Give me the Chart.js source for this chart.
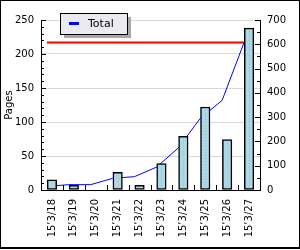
<!DOCTYPE html>
<html><head><meta charset="utf-8">
<script src="https://cdn.jsdelivr.net/npm/chart.js@4"></script>
<style>html,body{margin:0;padding:0;background:#fff}#wrap{width:300px;height:250px;position:relative}</style>
</head><body><div id="wrap"><canvas id="c" width="300" height="250"></canvas></div>
<script>
const categories = ['15\u20193/18','15\u20193/19','15\u20193/20','15\u20193/21','15\u20193/22','15\u20193/23','15\u20193/24','15\u20193/25','15\u20193/26','15\u20193/27'];
const dailyPages = [15, 7, 0, 26, 7, 39, 79, 122, 74, 238];
const cumulativeTotal = [15, 22, 22, 48, 55, 94, 173, 295, 369, 607];
const totalLevel = [607, 607, 607, 607, 607, 607, 607, 607, 607, 607];
const leftAxis = {min: 0, max: 250, major: 50, minor: 10};
const rightAxis = {min: 0, max: 700, major: 100, minor: 50};
const lineShift = 0.23; // line vertices sit at the left edge of each bar

Chart.defaults.font.family = "'DejaVu Sans'";
Chart.defaults.font.size = 10;
Chart.defaults.color = '#000';

const decor = {
  id: 'decor',
  afterDatasetsDraw(chart) {
    const ctx = chart.ctx;
    const meta = chart.getDatasetMeta(0);
    ctx.save();
    ctx.strokeStyle = 'rgba(225,150,160,0.9)';
    ctx.lineWidth = 1;
    ctx.setLineDash([1, 2]);
    meta.data.forEach(b => {
      if (b.base - b.y > 4) {
        const px = Math.round(b.x) + 0.5;
        ctx.beginPath();
        ctx.moveTo(px, b.y + 3);
        ctx.lineTo(px, b.base - 1);
        ctx.stroke();
      }
    });
    ctx.restore();
  },
  afterDraw(chart) {
    const {ctx, chartArea: a, scales: {x, y, y2}} = chart;
    ctx.save();
    ctx.strokeStyle = '#000';
    ctx.lineWidth = 1;
    ctx.beginPath();
    const L = Math.round(a.left);
    for (let v = leftAxis.min; v <= leftAxis.max; v += leftAxis.minor) {
      const py = Math.round(y.getPixelForValue(v)) + 0.5;
      const len = v % leftAxis.major === 0 ? 5 : 3;
      ctx.moveTo(L, py); ctx.lineTo(L + len, py);
    }
    const R = Math.round(a.right);
    for (let v = rightAxis.min; v <= rightAxis.max; v += rightAxis.minor) {
      const py = Math.round(y2.getPixelForValue(v)) + 0.5;
      const len = v % rightAxis.major === 0 ? 5 : 3;
      ctx.moveTo(R, py); ctx.lineTo(R - len, py);
    }
    const B = Math.round(a.bottom);
    const n = categories.length;
    for (let k = 1; k < n; k++) {
      const px = Math.round((x.getPixelForValue(k - 1) + x.getPixelForValue(k)) / 2) + 0.5;
      ctx.moveTo(px, B); ctx.lineTo(px, B - 5);
    }
    ctx.stroke();

    // legend
    const ds = chart.data.datasets[1];
    const bx = 60, by = 13, bw = 67, bh = 21;
    ctx.fillStyle = '#a8a8a8';
    ctx.fillRect(bx + 4, by + 4, bw, bh);
    ctx.fillStyle = '#ebeaf0';
    ctx.fillRect(bx, by, bw, bh);
    ctx.strokeStyle = '#000';
    ctx.strokeRect(bx + 0.5, by + 0.5, bw, bh);
    ctx.fillStyle = ds.borderColor;
    ctx.fillRect(69, 22, 10, 3);
    ctx.fillStyle = '#000';
    ctx.font = "11px 'DejaVu Sans'";
    ctx.textBaseline = 'middle';
    ctx.textAlign = 'left';
    ctx.fillText(ds.label, 88, 24);

    // frame
    ctx.fillStyle = '#000';
    ctx.fillRect(0, 0, 300, 1);
    ctx.fillRect(0, 0, 1, 249);
    ctx.fillRect(299, 0, 1, 249);
    ctx.fillRect(0, 247, 300, 2);
    ctx.restore();
  }
};

new Chart(document.getElementById('c'), {
  type: 'bar',
  data: {
    labels: categories,
    datasets: [
      {
        type: 'bar', label: 'Pages', data: dailyPages,
        backgroundColor: '#add8e6', borderColor: '#000', borderWidth: 1.5,
        borderSkipped: false, grouped: false,
        barThickness: 9.5,
        xAxisID: 'x', yAxisID: 'y'
      },
      {
        type: 'line', label: 'Total',
        data: cumulativeTotal.map((v, i) => ({x: i, y: v})),
        borderColor: '#0000ff', borderWidth: 1, pointRadius: 0, tension: 0, fill: false,
        xAxisID: 'xl', yAxisID: 'y2'
      },
      {
        type: 'line', label: 'Level',
        data: totalLevel.map((v, i) => ({x: i, y: v})),
        borderColor: '#ff0000', borderWidth: 2, pointRadius: 0, tension: 0, fill: false,
        xAxisID: 'xl', yAxisID: 'y2'
      }
    ]
  },
  options: {
    responsive: false,
    animation: false,
    layout: {padding: {top: 20, left: 0, right: 0, bottom: 0}},
    plugins: {legend: {display: false}, tooltip: {enabled: false}},
    scales: {
      x: {
        type: 'category', position: 'bottom',
        grid: {display: true, drawOnChartArea: false, drawTicks: false},
        border: {display: true, color: '#000', width: 1},
        ticks: {minRotation: 90, maxRotation: 90, padding: 9, autoSkip: false, font: {size: 10}},
        afterFit(s) { s.height = 60; }
      },
      xl: {
        type: 'linear', position: 'bottom', display: true, offset: false,
        min: -0.5 + lineShift, max: categories.length - 0.5 + lineShift,
        ticks: {display: false},
        grid: {display: false, drawTicks: false},
        border: {display: false},
        afterFit(s) { s.height = 0; }
      },
      y: {
        position: 'left', min: leftAxis.min, max: leftAxis.max,
        ticks: {stepSize: leftAxis.major, padding: 7},
        grid: {drawTicks: false, color: ctx => ctx.tick.value === 0 ? 'rgba(0,0,0,0)' : '#d8d8d8'},
        border: {display: true, color: '#000', width: 1},
        title: {display: true, text: 'Pages', padding: {top: 3, bottom: 0}, font: {size: 10}},
        afterFit(s) { s.width = 41; }
      },
      y2: {
        position: 'right', min: rightAxis.min, max: rightAxis.max,
        ticks: {stepSize: rightAxis.major, padding: 7},
        grid: {drawOnChartArea: false, drawTicks: false},
        border: {display: true, color: '#000', width: 1},
        afterFit(s) { s.width = 40; }
      }
    }
  },
  plugins: [decor]
});
</script></body></html>
